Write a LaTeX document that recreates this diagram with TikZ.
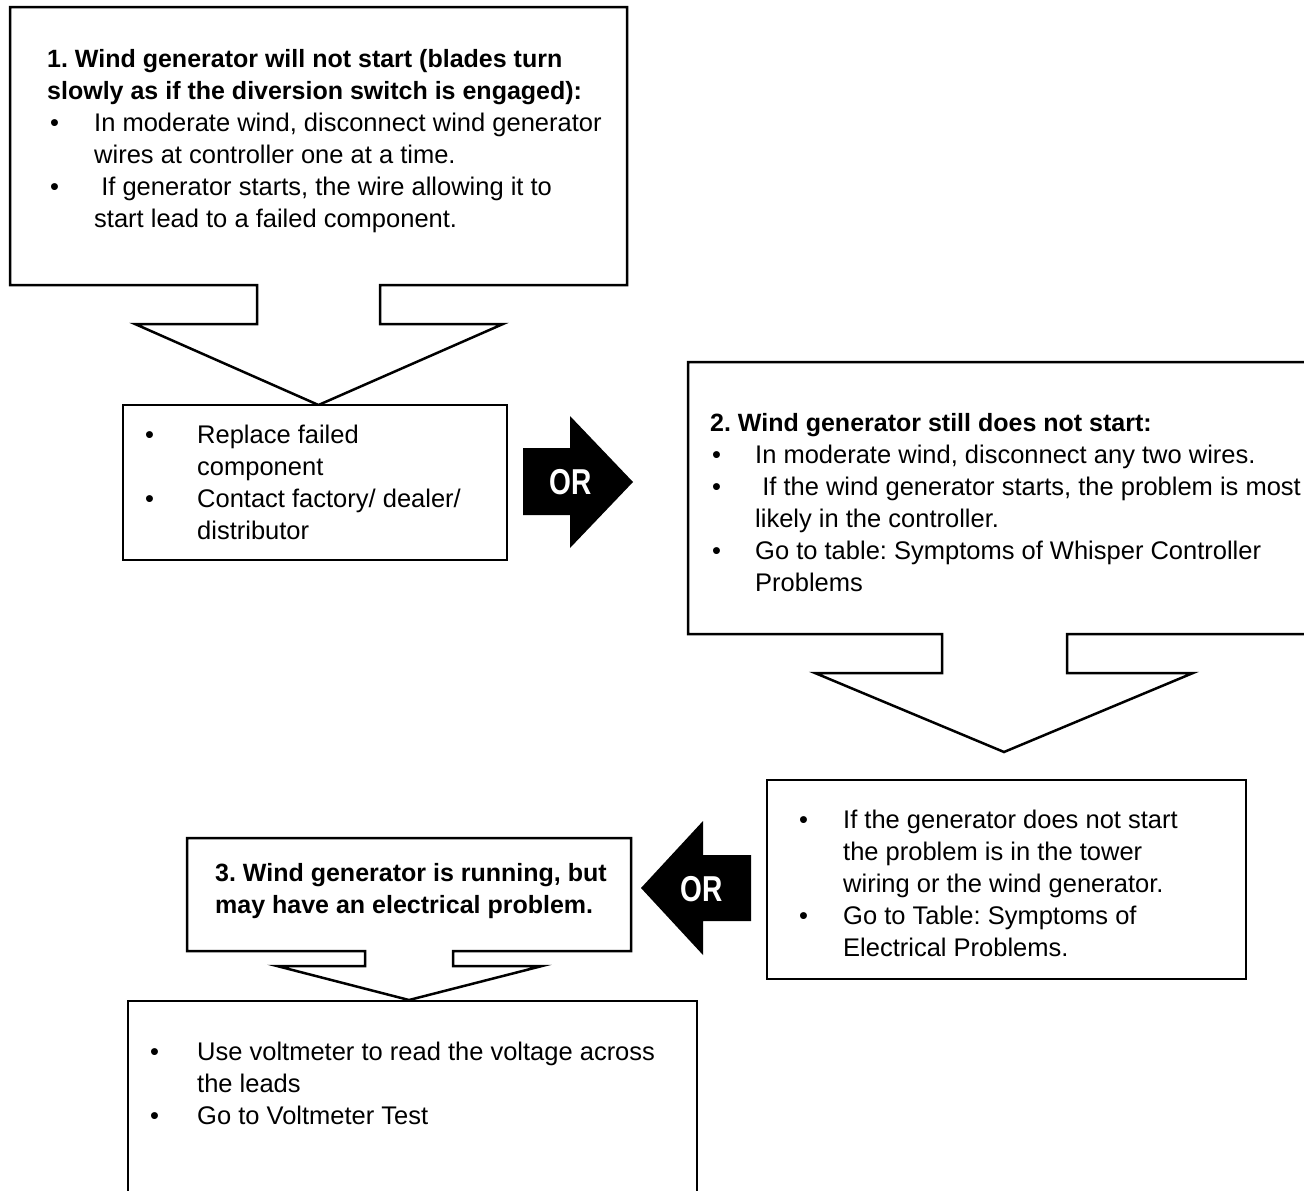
\documentclass[tikz,border=0pt]{standalone}
\usepackage{fontspec}
\setmainfont{Liberation Sans}
\usetikzlibrary{calc}
\frenchspacing
\begin{document}
\begin{tikzpicture}[x=1pt,y=-1pt,
  txt/.style={anchor=base west,inner sep=0pt,font=\fontsize{25.5}{32}\selectfont},
  btxt/.style={txt,font=\fontsize{25}{32}\selectfont\bfseries},
  outline/.style={draw=black,line width=2.5pt,line join=miter,fill=white},
  orarrow/.style={fill=black,draw=none},
  ortext/.style={inner sep=0pt,text=white,font=\fontsize{36}{36}\selectfont\bfseries}]
\useasboundingbox (0,0) rectangle (1304,1191);

% ---------- callout 1 ----------
\draw[outline] (10,7) -- (627,7) -- (627,285) -- (380,285) -- (380,324) -- (503,324)
  -- (318.5,405) -- (135,324) -- (257,324) -- (257,285) -- (10,285) -- cycle;
\node[btxt] (b1h1) at (47,67) {1. Wind generator will not start (blades turn};
\node[btxt] (b1h2) at (47,99) {slowly as if the diversion switch is engaged):};
\node[txt] (b1d1) at (50,131) {•};
\node[txt] (b1l1) at (94,131) {In moderate wind, disconnect wind generator};
\node[txt] (b1l2) at (94,163) {wires at controller one at a time.};
\node[txt] (b1d2) at (50,195) {•};
\node[txt] (b1l3) at (94,195) {\hspace{.278em}If generator starts, the wire allowing it to};
\node[txt] (b1l4) at (94,227) {start lead to a failed component.};

% ---------- replace box ----------
\draw[outline] (123,405) rectangle (507,560);
\node[txt] (rd1) at (145,443) {•};
\node[txt] (rl1) at (197,443) {Replace failed};
\node[txt] (rl2) at (197,475) {component};
\node[txt] (rd2) at (145,507) {•};
\node[txt] (rl3) at (197,507) {Contact factory/ dealer/};
\node[txt] (rl4) at (197,539) {distributor};

% ---------- OR arrow right ----------
\fill[orarrow] (523,448) -- (570,448) -- (570,416) -- (633,482) -- (570,548)
  -- (570,515) -- (523,515) -- cycle;
\node[ortext] (or1) at (571,482) {\scalebox{0.78}[1]{OR}};

% ---------- callout 2 ----------
\draw[outline] (688,362) -- (1330,362) -- (1330,634) -- (1067,634) -- (1067,673)
  -- (1193,673) -- (1004,752) -- (815,673) -- (942,673) -- (942,634) -- (688,634) -- cycle;
\node[btxt] (b2h) at (710,431) {2. Wind generator still does not start:};
\node[txt] (b2d1) at (712,463) {•};
\node[txt] (b2l1) at (755,463) {In moderate wind, disconnect any two wires.};
\node[txt] (b2d2) at (712,495) {•};
\node[txt] (b2l2) at (755,495) {\hspace{.278em}If the wind generator starts, the problem is most};
\node[txt] (b2l3) at (755,527) {likely in the controller.};
\node[txt] (b2d3) at (712,559) {•};
\node[txt] (b2l4) at (755,559) {Go to table: Symptoms of Whisper Controller};
\node[txt] (b2l5) at (755,591) {Problems};

% ---------- box 4 ----------
\draw[outline] (767,780) rectangle (1246,979);
\node[txt] (b4d1) at (799,828) {•};
\node[txt] (b4l1) at (843,828) {If the generator does not start};
\node[txt] (b4l2) at (843,860) {the problem is in the tower};
\node[txt] (b4l3) at (843,892) {wiring or the wind generator.};
\node[txt] (b4d2) at (799,924) {•};
\node[txt] (b4l4) at (843,924) {Go to Table: Symptoms of};
\node[txt] (b4l5) at (843,956) {Electrical Problems.};

% ---------- OR arrow left ----------
\fill[orarrow] (751,855) -- (703,855) -- (703,821) -- (641,888) -- (703,955)
  -- (703,921) -- (751,921) -- cycle;
\node[ortext] (or2) at (702,889) {\scalebox{0.78}[1]{OR}};

% ---------- callout 3 ----------
\draw[outline] (187,838) -- (631,838) -- (631,951) -- (453,951) -- (453,966) -- (542,966)
  -- (409,1000) -- (277,966) -- (365,966) -- (365,951) -- (187,951) -- cycle;
\node[btxt] (b3h1) at (215,881) {3. Wind generator is running, but};
\node[btxt] (b3h2) at (215,913) {may have an electrical problem.};

% ---------- box 5 ----------
\draw[outline] (128,1001) rectangle (697,1210);
\node[txt] (b5d1) at (150,1060) {•};
\node[txt] (b5l1) at (197,1060) {Use voltmeter to read the voltage across};
\node[txt] (b5l2) at (197,1092) {the leads};
\node[txt] (b5d2) at (150,1124) {•};
\node[txt] (b5l3) at (197,1124) {Go to Voltmeter Test};
\end{tikzpicture}
\end{document}
